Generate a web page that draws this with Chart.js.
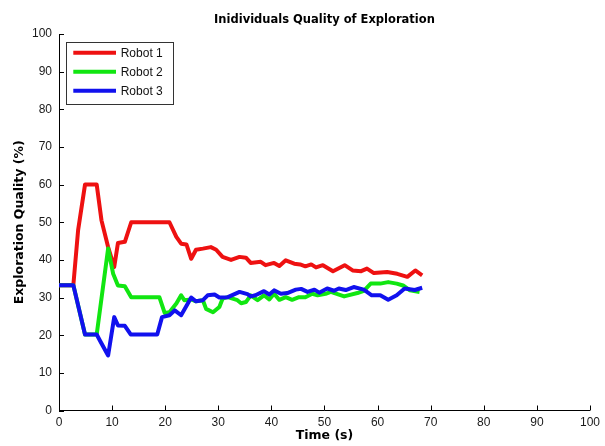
<!DOCTYPE html>
<html><head><meta charset="utf-8">
<script src="https://cdn.jsdelivr.net/npm/chart.js@4.4.0/dist/chart.umd.min.js"></script>
<style>html,body{margin:0;padding:0;background:#fff;}canvas{display:block;}</style>
</head><body>
<canvas id="c" width="605" height="446"></canvas>
<script>
const chartTitle = 'Inidividuals Quality of Exploration';
const xAxisTitle = 'Time (s)';
const yAxisTitle = 'Exploration Quality (%)';
const seriesNames = ['Robot 1', 'Robot 2', 'Robot 3'];
const xTickValues = [0, 10, 20, 30, 40, 50, 60, 70, 80, 90, 100];
const yTickValues = [0, 10, 20, 30, 40, 50, 60, 70, 80, 90, 100];

const robot1Time = [0, 2.7, 3.6, 4.9, 7.1, 8.0, 9.25, 10.4, 11.1, 12.4, 13.6, 20.8, 22.1, 23.0, 24.0, 24.9, 25.8, 27.1, 28.6, 29.6, 30.8, 32.4, 34.0, 35.2, 36.1, 38.0, 38.9, 40.5, 41.5, 42.7, 44.3, 45.4, 46.4, 47.5, 48.4, 49.7, 51.6, 53.8, 55.3, 56.9, 58.0, 59.3, 61.8, 63.7, 65.6, 67.1, 68.4];
const robot1Quality = [33.3, 33.3, 47.9, 60, 60, 50.5, 43.4, 38.1, 44.5, 44.8, 50, 50, 46.1, 44.3, 44.1, 40.3, 42.7, 43, 43.4, 42.7, 40.8, 40, 40.8, 40.6, 39.2, 39.5, 38.6, 39.2, 38.4, 39.9, 39, 38.8, 38.3, 38.8, 38.0, 38.6, 37.0, 38.6, 37.2, 37.0, 37.7, 36.5, 36.8, 36.3, 35.5, 37.2, 35.9];

const robot2Time = [0, 2.7, 4.9, 7.1, 9.25, 10.2, 11.1, 12.4, 13.6, 18.9, 19.9, 20.8, 22.1, 23.0, 23.6, 24.9, 25.8, 27.1, 27.7, 29.0, 30.2, 30.8, 31.8, 33.6, 34.3, 35.2, 36.1, 37.4, 38.6, 39.6, 40.5, 41.5, 42.7, 43.9, 45.2, 46.4, 47.7, 48.7, 50.2, 51.2, 53.7, 56.2, 57.4, 58.7, 60.5, 62.0, 63.6, 64.8, 66.1, 67.9];
const robot2Quality = [33.3, 33.3, 20.2, 20.2, 43, 36.3, 33.2, 33, 30.1, 30.1, 25.9, 26.1, 28.4, 30.6, 29.3, 29.5, 29, 29.3, 27, 26.1, 27.5, 29.7, 30.1, 29.3, 28.5, 28.8, 30.6, 29.3, 30.6, 29.5, 31, 29.4, 30.1, 29.4, 30.1, 30.1, 31, 30.6, 31, 31.5, 30.3, 31.2, 31.8, 33.7, 33.7, 34.1, 33.7, 33.2, 31.9, 31.5];

const robot3Time = [0, 2.7, 4.9, 7.1, 7.7, 9.25, 10.4, 11.1, 12.4, 13.5, 18.5, 19.4, 20.8, 21.8, 23.0, 24.9, 25.8, 27.1, 28.0, 29.3, 30.2, 31.8, 34.0, 35.5, 36.1, 37.0, 38.6, 39.6, 40.5, 41.8, 43.0, 44.6, 45.6, 46.8, 48.1, 49.0, 50.5, 51.8, 52.7, 54.0, 55.5, 57.4, 58.9, 60.5, 62.0, 63.6, 65.1, 67.0, 68.4];
const robot3Quality = [33.3, 33.3, 20.2, 20.2, 18.6, 14.6, 24.8, 22.6, 22.5, 20.2, 20.2, 24.8, 25.3, 26.6, 25.3, 30, 29, 29.3, 30.6, 30.8, 30, 30.1, 31.5, 30.9, 30.3, 30.6, 31.7, 30.8, 31.9, 31, 31.2, 32.1, 32.3, 31.5, 32.1, 31.3, 32.4, 31.8, 32.4, 32, 32.8, 32.1, 30.6, 30.6, 29.4, 30.6, 32.4, 32, 32.6];

const seriesColors = ['#ee1111', '#11e611', '#1111ee'];
const FONT = '"Liberation Sans", Arial, sans-serif';
const TITLE_FONT = '"DejaVu Sans", Verdana, sans-serif';

function pts(t, v) { return t.map((x, i) => ({x: x, y: v[i]})); }

const matlabAxes = {
  id: 'matlabAxes',
  afterDraw(chart) {
    const {ctx, chartArea: a, scales: {x, y}} = chart;
    ctx.save();
    ctx.strokeStyle = '#000';
    ctx.lineWidth = 1;
    ctx.beginPath();
    x.ticks.forEach(t => {
      const px = Math.round(x.getPixelForValue(t.value)) + 0.5;
      ctx.moveTo(px, a.bottom); ctx.lineTo(px, a.bottom - 5);
    });
    y.ticks.forEach(t => {
      const py = Math.round(y.getPixelForValue(t.value)) + 0.5;
      ctx.moveTo(a.left, py); ctx.lineTo(a.left + 5, py);
    });
    ctx.stroke();
    // legend
    const lx = a.left + 6.7, ly = a.top + 7.7, lw = 106.6, lh = 61.6;
    ctx.fillStyle = '#fff';
    ctx.fillRect(lx, ly, lw, lh);
    ctx.strokeStyle = '#333';
    ctx.strokeRect(Math.round(lx) + 0.5, Math.round(ly) + 0.5, Math.round(lw), Math.round(lh));
    ctx.font = '12px ' + FONT;
    ctx.textBaseline = 'middle';
    ctx.textAlign = 'left';
    chart.data.datasets.forEach((ds, i) => {
      const cy = ly + 11 + i * 19;
      ctx.strokeStyle = ds.borderColor;
      ctx.lineWidth = 4;
      ctx.beginPath();
      ctx.moveTo(lx + 7.6, cy); ctx.lineTo(lx + 50.3, cy);
      ctx.stroke();
      ctx.fillStyle = '#111';
      ctx.fillText(ds.label, lx + 55, cy + 0.5);
    });
    ctx.restore();
  }
};

new Chart(document.getElementById('c'), {
  type: 'line',
  data: {
    datasets: [
      {label: seriesNames[0], data: pts(robot1Time, robot1Quality), borderColor: seriesColors[0], order: 2},
      {label: seriesNames[1], data: pts(robot2Time, robot2Quality), borderColor: seriesColors[1], order: 1},
      {label: seriesNames[2], data: pts(robot3Time, robot3Quality), borderColor: seriesColors[2], order: 0}
    ]
  },
  options: {
    responsive: false,
    animation: false,
    devicePixelRatio: 1,
    layout: {padding: {left: 0, right: 10.7, top: 0, bottom: 0}},
    elements: {
      line: {borderWidth: 4, tension: 0, fill: false, borderJoinStyle: 'round', borderCapStyle: 'butt'},
      point: {radius: 0, hoverRadius: 0}
    },
    plugins: {
      legend: {display: false},
      tooltip: {enabled: false},
      title: {
        display: true, fullSize: false, text: chartTitle, color: '#000',
        font: {family: TITLE_FONT, size: 11.5, weight: 'bold'},
        padding: {top: 13.1, bottom: 7.1}
      }
    },
    scales: {
      x: {
        type: 'linear', min: 0, max: 100,
        afterBuildTicks: s => { s.ticks = xTickValues.map(v => ({value: v})); },
        afterFit: s => { s.height = 35.5; },
        grid: {display: false, drawTicks: false},
        border: {display: true, color: '#000', width: 1},
        ticks: {color: '#1a1a1a', font: {family: FONT, size: 12}, padding: 5, maxRotation: 0, autoSkip: false},
        title: {display: true, text: xAxisTitle, color: '#000', font: {family: TITLE_FONT, size: 12.5, weight: 'bold'}, padding: {top: 0, bottom: 2.5}}
      },
      y: {
        type: 'linear', min: 0, max: 100,
        afterBuildTicks: s => { s.ticks = yTickValues.map(v => ({value: v})); },
        afterFit: s => { s.width = 59; },
        grid: {display: false, drawTicks: false},
        border: {display: true, color: '#000', width: 1},
        ticks: {color: '#1a1a1a', font: {family: FONT, size: 12}, padding: 7, autoSkip: false},
        title: {display: true, text: yAxisTitle, color: '#000', font: {family: TITLE_FONT, size: 12.5, weight: 'bold'}, padding: {top: 12.3, bottom: 0}}
      }
    }
  },
  plugins: [matlabAxes]
});
</script>
</body></html>
